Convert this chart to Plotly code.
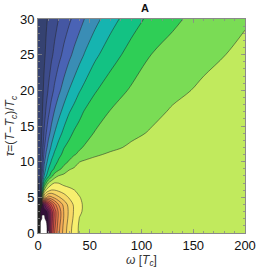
import plotly.graph_objects as go

# grid coordinates
omega = [0, 2, 4, 6, 8, 10, 13, 16, 20, 25, 30, 35, 40, 45, 55, 70, 90, 110, 130, 160, 200]
tau = [0, 1, 2, 3, 4, 5, 6, 7, 8, 9, 10, 11, 12, 14, 17, 20, 25, 30]

# estimated contour-level index (one row per tau value)
z_level = [
    [-12, 14.5, 15, 15, 14.3, 12.0, 8.5, 6.5, 4.7, 3.07, 1.9, 1.0, 0.35, 0.25, 0.12, 0.05, 0.05, 0.05, 0.05, 0.05, 0.05],
    [-12, 14, 14.5, 14.5, 14, 12.33, 8.86, 6.83, 4.9, 3.21, 2.0, 1.08, 0.35, 0.25, 0.12, 0.05, 0.05, 0.05, 0.05, 0.05, 0.05],
    [-12, 13.0, 13.6, 13.7, 13.2, 12.36, 9.17, 7.09, 5.19, 3.42, 2.2, 1.25, 0.47, 0.3, 0.15, 0.05, 0.05, 0.05, 0.05, 0.05, 0.05],
    [-12, 13.2, 13.4, 13.3, 12.9, 11.72, 9.04, 7.13, 5.24, 3.45, 2.3, 1.36, 0.64, 0.35, 0.15, 0.05, 0.05, 0.05, 0.05, 0.05, 0.05],
    [-12, -6, 13.0, 11.5, 10.17, 8.83, 7.25, 5.9, 4.45, 3.17, 2.14, 1.31, 0.69, 0.35, 0.15, 0.05, 0.05, 0.05, 0.05, 0.05, 0.05],
    [-10.5, -9.2, -0.45, 2.45, 3.3, 4.0, 3.7, 3.21, 2.64, 2.0, 1.41, 0.98, 0.54, 0.3, 0.15, 0.05, 0.05, 0.05, 0.05, 0.05, 0.05],
    [-9.8, -8.93, -3.45, -0.45, 0.68, 1.05, 1.55, 1.52, 1.29, 1.03, 0.76, 0.52, 0.3, 0.2, 0.1, 0.05, 0.05, 0.05, 0.05, 0.05, 0.05],
    [-9.6, -8.88, -4.9, -2.67, -1.45, -0.45, 0.17, 0.55, 0.48, 0.2, 0.1, 0.05, 0.0, 0.0, 0.0, 0.0, 0.0, 0.0, 0.0, 0.0, 0.0],
    [-9.45, -8.84, -6.25, -4.45, -3.55, -2.84, -1.83, -1.0, -0.45, -0.25, 0.0, 0.05, 0.05, 0.05, 0.05, 0.05, 0.05, 0.05, 0.05, 0.05, 0.05],
    [-9.45, -8.86, -6.93, -5.17, -4.22, -3.53, -2.92, -2.37, -1.79, -1.17, -0.61, -0.4, -0.3, -0.2, -0.1, 0.0, 0.05, 0.1, 0.1, 0.1, 0.1],
    [-9.45, -8.87, -7.39, -5.7, -4.79, -4.14, -3.39, -2.89, -2.35, -1.88, -1.41, -0.95, -0.52, -0.35, -0.2, -0.1, 0.0, 0.05, 0.1, 0.1, 0.1],
    [-9.45, -8.89, -7.83, -6.24, -5.29, -4.6, -3.89, -3.32, -2.75, -2.27, -1.92, -1.57, -1.32, -1.09, -0.64, -0.35, -0.2, -0.1, 0.0, 0.05, 0.1],
    [-9.45, -8.91, -8.08, -6.63, -5.75, -5.1, -4.32, -3.74, -3.15, -2.54, -2.22, -1.92, -1.62, -1.42, -1.14, -0.72, -0.35, -0.2, -0.1, 0.0, 0.1],
    [-9.45, -8.95, -8.39, -7.33, -6.47, -5.86, -5.13, -4.48, -3.88, -3.25, -2.76, -2.38, -2.12, -1.86, -1.44, -1.13, -0.72, -0.4, -0.25, -0.1, 0.05],
    [-9.45, -9.02, -8.59, -7.95, -7.3, -6.73, -6.04, -5.44, -4.82, -4.16, -3.57, -3.16, -2.77, -2.43, -2.01, -1.45, -1.1, -0.74, -0.4, -0.2, 0.0],
    [-9.45, -9.08, -8.72, -8.32, -7.86, -7.42, -6.85, -6.32, -5.72, -5.09, -4.48, -4.04, -3.57, -3.23, -2.59, -2.0, -1.39, -1.06, -0.72, -0.35, -0.1],
    [-9.4, -9.14, -8.88, -8.62, -8.35, -8.08, -7.66, -7.29, -6.81, -6.25, -5.74, -5.27, -4.85, -4.44, -3.72, -2.92, -2.14, -1.48, -1.19, -0.73, -0.3],
    [-9.3, -9.12, -8.94, -8.77, -8.59, -8.41, -8.14, -7.86, -7.48, -7.08, -6.67, -6.27, -5.88, -5.48, -4.83, -3.91, -2.93, -2.22, -1.67, -1.16, -0.59],
]

level_start, level_end, level_step = -11.5, 13.5, 1

# one colour per band, lowest band first
band_colors = [
    "#05060a", "#111526", "#1f2846", "#354271", "#3d4c8c", "#4557a3", "#4a63b5",
    "#3a8db5", "#16b4b0", "#13c283", "#2fce56", "#7adc55", "#c1ea5d",
    "#f7ef6e", "#f7d866", "#f5c15d", "#f2a855", "#ee8e4e", "#e77449", "#dd5a47",
    "#cf4249", "#bd3152", "#a2265c", "#821e60", "#5c1754", "#331038", "#ffffff",
]

x_ticks = [0, 50, 100, 150, 200]
y_ticks = [0, 5, 10, 15, 20, 25, 30]

n_bands = len(band_colors)
colorscale = [[i / (n_bands - 1), c] for i, c in enumerate(band_colors)]

fig = go.Figure(go.Contour(
    x=omega, y=tau, z=z_level,
    autocontour=False,
    contours=dict(start=level_start, end=level_end, size=level_step, coloring="fill", showlines=True),
    colorscale=colorscale,
    showscale=False,
    line=dict(color="rgba(35,35,35,0.85)", width=0.6, smoothing=1.0),
    hoverinfo="skip",
))

font_family = "Liberation Sans, Arial, sans-serif"
axis_common = dict(
    showline=True, linecolor="#8a8a8a", linewidth=1, mirror="ticks",
    ticks="inside", ticklen=4, tickcolor="#8a8a8a", tickwidth=0.8,
    showgrid=False, zeroline=False,
    tickfont=dict(family=font_family, size=13, color="#111111"),
)
fig.update_xaxes(range=[0, 200], tickvals=x_ticks,
                 minor=dict(ticks="inside", ticklen=2, dtick=10, tickcolor="#8a8a8a"),
                 title=dict(text="<i>ω</i> [<i>T<sub>c</sub></i>]", standoff=2,
                            font=dict(family=font_family, size=12, color="#333333")),
                 **axis_common)
fig.update_yaxes(range=[0, 30], tickvals=y_ticks,
                 minor=dict(ticks="inside", ticklen=2, dtick=1, tickcolor="#8a8a8a"),
                 title=dict(text="<i>τ</i>=(<i>T</i>−<i>T<sub>c</sub></i>)/<i>T<sub>c</sub></i>", standoff=2,
                            font=dict(family=font_family, size=12, color="#333333")),
                 **axis_common)

fig.update_layout(
    width=266, height=273,
    margin=dict(l=32, r=10, t=19, b=32),
    paper_bgcolor="white", plot_bgcolor="white",
    title=dict(text="<b>A</b>", x=0.545, xanchor="center", y=0.97, yanchor="middle",
               font=dict(family=font_family, size=11, color="#111111")),
    showlegend=False,
)

fig.write_html("out.html", config={"displayModeBar": False, "staticPlot": True},
               post_script="document.body.style.margin='0';document.body.style.overflow='hidden';")
